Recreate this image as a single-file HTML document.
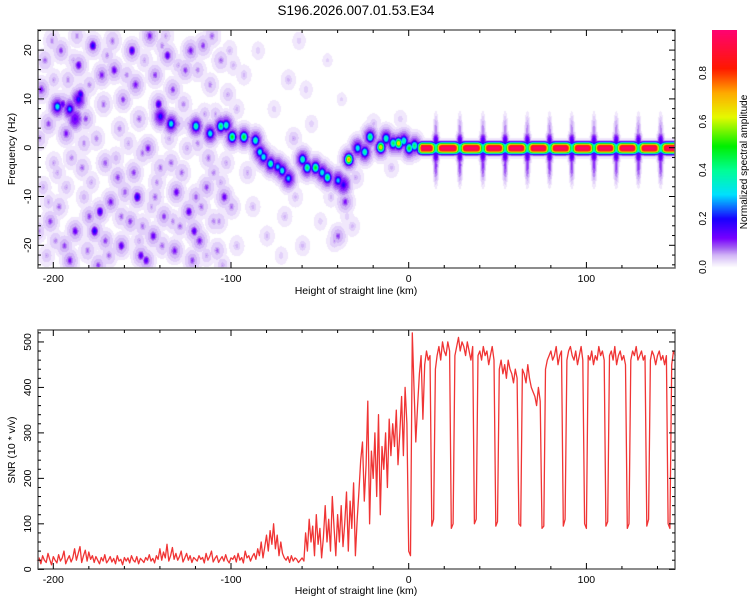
<!DOCTYPE html>
<html><head><meta charset="utf-8">
<style>
body{margin:0;background:#fff;width:750px;height:600px;overflow:hidden;position:relative;font-family:"Liberation Sans",sans-serif}
canvas{position:absolute}
svg{position:absolute;left:0;top:0}
</style></head>
<body>
<canvas id="spec" width="637" height="238" style="left:38px;top:30px"></canvas>
<canvas id="cbar" width="25" height="238" style="left:712px;top:30px"></canvas>
<svg id="svg" width="750" height="600">
<text x="356" y="15" font-size="13.5" text-anchor="middle" fill="#000">S196.2026.007.01.53.E34</text>
<text x="356" y="294" font-size="10.5" text-anchor="middle">Height of straight line (km)</text>
<text x="356" y="594" font-size="10.5" text-anchor="middle">Height of straight line (km)</text>
<text transform="translate(15,149) rotate(-90)" font-size="10.5" text-anchor="middle">Frequency (Hz)</text>
<text transform="translate(15,450) rotate(-90)" font-size="10.5" text-anchor="middle">SNR (10 * v/v)</text>
<text transform="translate(747,162) rotate(-90)" font-size="10" text-anchor="middle">Normalized spectral amplitude</text>
<g id="axes"></g>
</svg>
<script>
// ---- data ----
const snrStartKm = -209;
const snrValues = [
18,25,12,30,20,15,35,22,10,28,
20,14,32,18,25,40,12,22,30,16,
25,45,20,35,50,15,30,42,18,38,
22,30,15,28,20,12,26,18,32,14,
20,28,16,24,12,30,18,22,10,26,
18,25,14,30,20,16,28,12,24,20,
15,26,20,32,18,24,14,30,22,45,
20,38,25,55,18,30,48,22,35,20,
28,40,16,25,35,20,30,15,26,22,
18,30,22,26,14,35,20,28,40,16,
24,30,15,22,28,18,32,20,14,25,
22,30,16,35,20,26,14,40,25,30,
18,28,35,22,45,30,60,25,50,75,
40,85,55,100,45,75,30,60,35,25,
20,28,15,30,18,25,22,15,20,25,
18,80,40,110,60,95,30,120,55,90,
25,70,140,60,110,40,160,90,30,120,
60,140,50,100,170,40,150,90,190,30,
110,170,240,280,150,230,370,100,260,200,
300,160,340,120,270,220,300,180,330,250,
320,270,350,230,300,380,250,400,320,40,
30,520,400,280,360,430,470,330,450,480,
460,470,95,110,440,470,490,460,500,480,
470,500,480,90,100,470,490,510,480,500,
490,470,500,480,460,490,100,110,470,480,
460,490,470,480,450,470,490,460,95,105,
440,460,430,450,420,460,440,430,410,440,
420,100,95,440,430,410,450,420,400,390,
380,360,400,370,90,95,440,460,470,480,
460,470,490,450,470,480,95,110,460,480,
490,470,460,480,450,470,490,460,100,90,
470,460,480,450,470,460,490,470,480,460,
95,105,470,480,460,490,450,470,480,460,
470,450,90,100,460,480,470,490,460,470,
480,460,470,95,110,460,480,470,450,470,
480,460,470,450,470,100,90,450,480,470];
// ridge blobs: [km, Hz, amplitude]
const ridgeBlobs = [
[-198,8.5,0.35],[-191,8,0.28],[-186,10,0.22],[-188,6,0.15],
[-140,6.5,0.22],[-134,5,0.35],[-120,4.5,0.4],[-112,3,0.35],[-106,4.5,0.45],[-103,4.7,0.4],
[-99.6,2.3,0.5],[-93,2.3,0.5],[-86.5,1.6,0.4],[-84,-0.8,0.35],[-82,-1.8,0.35],[-78,-3.2,0.4],
[-74,-3.8,0.3],[-71.5,-4.6,0.35],[-68,-6.2,0.3],[-60,-2.3,0.4],[-57.4,-4,0.45],[-52.7,-4,0.5],
[-49,-5,0.35],[-46,-6,0.45],[-40,-6.6,0.3],[-37,-7.5,0.2],[-34,-2.3,0.75],[-29,0,0.35],[-25,-0.8,0.4],
[-22,2.3,0.45],[-16,0.2,0.7],[-13,2,0.4],[-9,1,0.45],[-6,1,0.7],[-3,1.5,0.4],[0,0,0.5],[3,0.5,0.45]];
// background noise blobs: [km, Hz, amplitude]
const bgBlobs = [
[-205,18,.08],[-203,5,.1],[-206,-8,.06],[-202,-15,.1],[-204,-22,.06],[-207,12,.12],[-201,22,.07],[-200,-3,.06],
[-196,20,.1],[-193,3,.12],[-197,-12,.08],[-194,-20,.1],[-192,14,.07],[-198,-5,.06],[-191,-23,.12],[-195,9,.15],
[-186,17,.15],[-184,-4,.08],[-188,-17,.14],[-183,-10,.06],[-182,6,.1],[-187,23,.07],[-181,-21,.08],[-185,11,.2],
[-178,21,.2],[-176,2,.07],[-174,-13,.18],[-177,-17,.2],[-172,9,.08],[-179,-7,.06],[-173,15,.12],[-175,-24,.1],
[-166,16,.14],[-164,-6,.1],[-168,-11,.12],[-162,-20,.15],[-163,4,.07],[-167,22,.08],[-161,10,.1],[-165,-2,.06],
[-156,20,.18],[-153,-10,.2],[-157,-15,.1],[-152,6,.08],[-158,1,.06],[-154,13,.12],[-151,-22,.15],[-155,-5,.1],
[-146,23,.12],[-144,-18,.14],[-147,0,.12],[-142,-7,.07],[-143,15,.1],[-148,-23,.15],[-141,9,.18],[-145,-12,.06],
[-136,19,.15],[-134,-3,.08],[-138,-14,.1],[-132,-21,.12],[-133,12,.1],[-137,23,.06],[-131,-9,.14],[-135,2,.06],
[-126,16,.1],[-124,-13,.15],[-128,-5,.08],[-122,-23,.1],[-123,20,.12],[-127,9,.07],[-121,-17,.15],[-125,0,.06],
[-116,21,.1],[-114,-8,.1],[-118,-19,.12],[-112,13,.07],[-113,-2,.08],[-117,-12,.08],[-111,23,.08],[-115,7,.06],
[-106,18,.08],[-104,-10,.14],[-108,-21,.08],[-102,11,.06],[-103,-3,.06],[-107,-15,.07],[-101,20,.05],[-105,-24,.06],
[-93,15,.05],[-88,-12,.05],[-85,20,.04],[-80,-18,.05],[-76,8,.04],[-72,-22,.04],[-68,14,.05],[-64,-10,.05],
[-62,22,.04],[-60,-20,.05],[-55,5,.04],[-50,-15,.04],[-46,18,.03],[-42,-19,.06],[-38,10,.03],[-35,-14,.04],
[-78,-2,.08],[-65,2,.06],[-40,-18,.1],[-36,-11,.12],[-30,-6,.06],[-20,5,.05],[-10,-4,.05],[-5,6,.04]];
const bgBlobsExtra = [
[-208,2,.07],[-209,-17,.08],[-200,14,.06],[-199,-19,.07],[-190,-2,.07],[-189,18,.06],[-180,-14,.1],[-180,13,.07],
[-171,-3,.09],[-170,19,.07],[-169,-22,.08],[-160,-9,.09],[-159,15,.07],[-150,-1,.08],[-149,18,.06],[-150,-16,.08],
[-140,-4,.08],[-139,21,.07],[-139,-20,.08],[-130,5,.07],[-129,-16,.08],[-130,17,.06],[-119,1,.07],[-120,-10,.09],
[-119,16,.07],[-110,-15,.07],[-109,7,.06],[-110,-5,.07],[-100,-12,.08],[-99,17,.05],[-97,-20,.05],[-91,-5,.06],
[-203,-11,.06],[-193,-8,.06],[-183,1,.07],[-171,-19,.1],[-162,-14,.08],[-152,-19,.06],[-143,-10,.08],[-133,-15,.07],
[-124,5,.06],[-114,-22,.06],[-106,-7,.06],[-97,8,.05],[-70,-14,.05],[-58,12,.04],[-44,-10,.05],[-32,-16,.05]];
const carrierStartKm = 6;
const carrierGapsKm = [15,28.5,41.5,54,66.5,79,91.5,104,116.5,129,141.5];
const xTicks = [-200,-100,0,100];
const freqTicks = [-20,-10,0,10,20];
const snrTicks = [0,100,200,300,400,500];
const cbarTicks = [0.0,0.2,0.4,0.6,0.8];

// ---- scales ----
const X0=38,X1=675;
const xPx = km => 408.7 + km*1.777;
const T0=30,T1=268, B0=330,B1=569;
const fPx = f => 147.7 - f*4.88;
const sPx = s => 569.3 - s*0.4547;
const cPx = v => 267 - v*242.5;

// ---- colormap ----
const stops=[[0,255,255,255],[0.02,238,228,252],[0.05,210,182,247],[0.08,165,100,242],[0.12,120,0,255],[0.2,25,0,255],[0.3,0,225,255],[0.4,0,255,150],[0.5,0,240,0],[0.62,230,250,0],[0.72,255,170,0],[0.82,255,25,0],[1,255,0,130]];
function cmap(v){v=Math.max(0,Math.min(1,v));
 for(let i=1;i<stops.length;i++){if(v<=stops[i][0]){const a=stops[i-1],b=stops[i],t=(v-a[0])/(b[0]-a[0]);
 return [a[1]+(b[1]-a[1])*t,a[2]+(b[2]-a[2])*t,a[3]+(b[3]-a[3])*t];}}return [255,0,130];}

// ---- spectrogram ----
const W=637,H=238;const F=new Float32Array(W*H);
function blob(km,f,amp,sx,sy){
 const cx=xPx(km)-X0, cy=fPx(f)-T0, rx=sx*1.777, ry=sy*4.88;
 const x0=Math.max(0,Math.floor(cx-3*rx)),x1=Math.min(W-1,Math.ceil(cx+3*rx));
 const y0=Math.max(0,Math.floor(cy-3*ry)),y1=Math.min(H-1,Math.ceil(cy+3*ry));
 for(let y=y0;y<=y1;y++)for(let x=x0;x<=x1;x++){const dx=(x-cx)/rx,dy=(y-cy)/ry;
  const v=amp*Math.exp(-0.5*(dx*dx+dy*dy));const k=y*W+x;if(v>F[k])F[k]=v;}}
bgBlobs.concat(bgBlobsExtra).forEach(b=>{blob(b[0],b[1],Math.min(0.07,b[2]*0.6),3.2,1.6);blob(b[0],b[1],b[2],1.3,0.7);});
ridgeBlobs.forEach(b=>{blob(b[0],b[1],0.13,3,1.6);blob(b[0],b[1],b[2],1.4,0.7);});
carrierGapsKm.forEach(g=>{blob(g,3.5,0.07,0.9,2.2);blob(g,-3.5,0.1,0.9,2.4);blob(g,1.5,0.16,1.2,1.2);blob(g,-1.5,0.16,1.2,1.2);});
for(let x=0;x<W;x++){const km=(x+X0-408.7)/1.777;if(km<carrierStartKm-2)continue;
 let a=0.95*Math.min(1,Math.max(0,(km-(carrierStartKm-2))/3));
 let dmin=99;carrierGapsKm.forEach(g=>{dmin=Math.min(dmin,Math.abs(km-g));});
 a*=1-0.6*Math.exp(-dmin*dmin/(2*1.2*1.2));
 for(let y=0;y<H;y++){const f=(147.7-(y+T0))/4.88;const af=Math.abs(f);
  let v=a*Math.exp(-Math.pow(af/1.1,3));const halo=0.12*Math.exp(-af*af/(2*1.0*1.0));v=Math.max(v,halo);
  const k=y*W+x;if(v>F[k])F[k]=v;}}
const sc=document.getElementById('spec').getContext('2d');const img=sc.createImageData(W,H);
for(let i=0;i<W*H;i++){let v=F[i];v=v<0.012?0:Math.round(v*60)/60;const c=cmap(v);img.data[i*4]=c[0];img.data[i*4+1]=c[1];img.data[i*4+2]=c[2];img.data[i*4+3]=255;}
sc.putImageData(img,0,0);
const cc=document.getElementById('cbar').getContext('2d');
for(let y=0;y<238;y++){const v=(267-(y+30))/242.5;const c=cmap(Math.max(0,v));cc.fillStyle=`rgb(${c[0]|0},${c[1]|0},${c[2]|0})`;cc.fillRect(0,y,25,1);}

// ---- axes ----
const NS='http://www.w3.org/2000/svg';const g=document.getElementById('axes');
function el(t,a){const e=document.createElementNS(NS,t);for(const k in a)e.setAttribute(k,a[k]);g.appendChild(e);return e;}
function line(x1,y1,x2,y2,w,c){return el('line',{x1,y1,x2,y2,stroke:c||'#000','stroke-width':w||1});}
function frame(top,bot,name){const r=el('rect',{x:X0,y:top,width:X1-X0,height:bot-top,fill:'none',stroke:'#666','stroke-width':1.5});
 
 }
const pts=snrValues.map((v,i)=>xPx(snrStartKm+i).toFixed(1)+','+sPx(v).toFixed(1)).join(' ');
const pl=el('polyline',{points:pts,fill:'none',stroke:'#f03434','stroke-width':1.3,'stroke-linejoin':'round'});


frame(T0,T1,'spectrogram-frame');frame(B0,B1,'snr-frame');
[[T0,T1],[B0,B1]].forEach(([t,b])=>{
 for(let km=-200;km<=140;km+=20){const x=xPx(km);const maj=km%100===0;const L=maj?6:3;line(x,b,x,b-L);line(x,t,x,t+L);}
 xTicks.forEach(k=>{const tx=el('text',{x:xPx(k),y:b+14,'font-size':10.5,'text-anchor':'middle'});tx.textContent=k;
  
  });
});
for(let f=-24;f<=24;f+=2){const y=fPx(f);const L=f%10===0?6:3;line(X0,y,X0+L,y);line(X1,y,X1-L,y);}
freqTicks.forEach(f=>{const tx=el('text',{transform:`translate(31,${fPx(f)}) rotate(-90)`,'font-size':10.5,'text-anchor':'middle'});tx.textContent=f;
 
 });
for(let s=0;s<=520;s+=20){const y=sPx(s);const L=s%100===0?6:3;line(X0,y,X0+L,y);line(X1,y,X1-L,y);}
snrTicks.forEach(s=>{const tx=el('text',{transform:`translate(31,${sPx(s)}) rotate(-90)`,'font-size':10.5,'text-anchor':'middle'});tx.textContent=s;
 
 });
cbarTicks.forEach(v=>{const tx=el('text',{transform:`translate(706,${cPx(v)}) rotate(-90)`,'font-size':10,'text-anchor':'middle'});tx.textContent=v.toFixed(1);
 
 });
</script>
</body></html>
